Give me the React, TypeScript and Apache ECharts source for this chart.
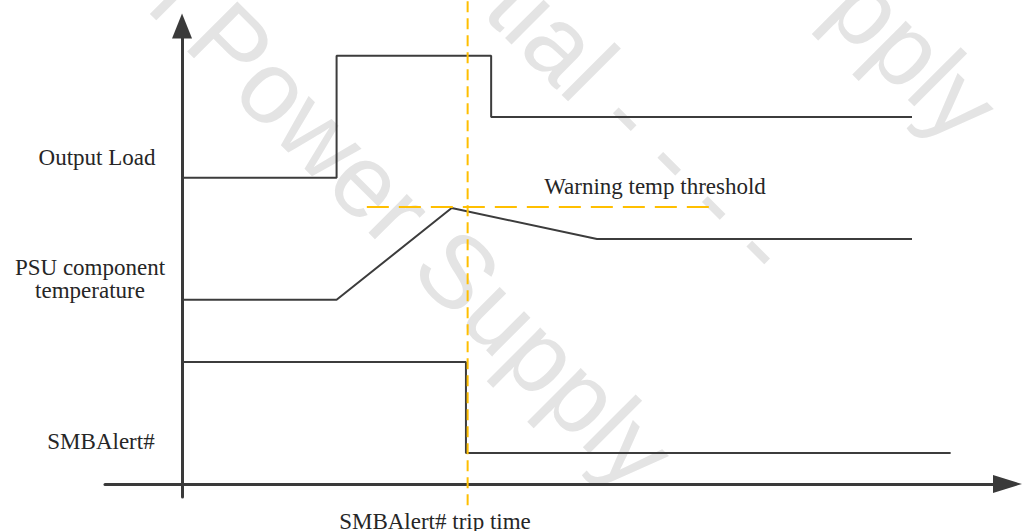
import React, { useEffect, useRef } from "react";
import * as echarts from "echarts";

// Time axis in arbitrary units (0 = vertical axis), signal level in arbitrary units (0 = time axis)
const outputLoadX = [0, 18.4, 18.4, 36.8, 36.8, 86.9];
const outputLoadY = [65.0, 65.0, 90.9, 90.9, 77.9, 77.9];

const tempX = [0, 18.4, 32.1, 49.4, 86.9];
const tempY = [39.1, 39.1, 58.6, 52.0, 52.0];

const alertX = [0, 33.8, 33.8, 91.5];
const alertY = [25.9, 25.9, 6.6, 6.6];

const thresholdX = [22.0, 63.2];
const thresholdY = [58.8, 58.8];

const tripX = [34.0, 34.0];
const tripY = [-4.5, 102.8];

const signalLabels = ["Output Load", "PSU component\ntemperature", "SMBAlert#"];
const thresholdLabel = "Warning temp threshold";
const tripLabel = "SMBAlert# trip time";
const watermarks = ["l Power Supply", "tial - - - -", "pply"];

const zip = (xs: number[], ys: number[]) => xs.map((x, i) => [x, ys[i]]);

const AXIS_COLOR = "#3a3a3a";
const LINE_COLOR = "#3c3c3c";
const ORANGE = "#ffbf00";
const TEXT_COLOR = "#262626";
const SERIF = "'Liberation Serif', 'Times New Roman', serif";

export default function App() {
  const ref = useRef<HTMLDivElement>(null);
  useEffect(() => {
    if (!ref.current) return;
    const chart = echarts.init(ref.current, null, { renderer: "svg" });
    const axisCommon = {
      type: "value" as const,
      axisTick: { show: false },
      axisLabel: { show: false },
      splitLine: { show: false },
    };
    const wmStyle = (text: string) => ({
      text,
      fontSize: 103,
      fontFamily: "'Liberation Sans', Arial, sans-serif",
      fill: "#e4e4e4",
      align: "left",
      verticalAlign: "middle",
    });
    const label = (text: string, x: number, y: number, align = "center") => ({
      type: "text",
      x,
      y,
      z: 10,
      style: {
        text,
        fontSize: 23,
        lineHeight: 23,
        fontFamily: SERIF,
        fill: TEXT_COLOR,
        align,
        verticalAlign: "middle",
      },
    });
    chart.setOption({
      animation: false,
      backgroundColor: "#ffffff",
      grid: { left: 105, right: 17.5, top: 26, bottom: 34 },
      xAxis: {
        ...axisCommon,
        min: -9.17,
        max: 98.27,
        axisLine: {
          show: true,
          onZero: true,
          symbol: ["none", "triangle"],
          symbolSize: [18, 29],
          lineStyle: { color: AXIS_COLOR, width: 3 },
        },
      },
      yAxis: {
        ...axisCommon,
        min: -2.76,
        max: 97.24,
        axisLine: {
          show: true,
          onZero: true,
          symbol: ["none", "triangle"],
          symbolSize: [20, 25],
          lineStyle: { color: AXIS_COLOR, width: 3 },
        },
      },
      graphic: [
        { type: "text", x: 170, y: -16, rotation: -Math.PI / 4, z: 0, style: wmStyle(watermarks[0]) },
        { type: "text", x: 505, y: -12, rotation: -Math.PI / 4, z: 0, style: wmStyle(watermarks[1]) },
        { type: "text", x: 847, y: -11, rotation: -Math.PI / 4, z: 0, style: wmStyle(watermarks[2]) },
        label(signalLabels[0], 97, 157),
        label(signalLabels[1], 90, 279),
        label(signalLabels[2], 101, 441),
        label(thresholdLabel, 655, 186),
        label(tripLabel, 435, 521),
      ],
      series: [
        {
          type: "line",
          data: zip(outputLoadX, outputLoadY),
          symbol: "none",
          lineStyle: { color: LINE_COLOR, width: 2 },
          z: 3,
        },
        {
          type: "line",
          data: zip(tempX, tempY),
          symbol: "none",
          lineStyle: { color: LINE_COLOR, width: 2 },
          z: 3,
        },
        {
          type: "line",
          data: zip(alertX, alertY),
          symbol: "none",
          lineStyle: { color: LINE_COLOR, width: 2 },
          z: 3,
        },
        {
          type: "line",
          data: zip(thresholdX, thresholdY),
          symbol: "none",
          lineStyle: { color: ORANGE, width: 2, type: [22, 10] },
          z: 4,
        },
        {
          type: "line",
          data: zip(tripX, tripY),
          symbol: "none",
          clip: false,
          lineStyle: { color: ORANGE, width: 2, type: [11, 6] },
          z: 4,
        },
      ],
    });
    return () => chart.dispose();
  }, []);
  return (
    <div
      ref={ref}
      style={{ position: "fixed", left: 0, top: 0, width: 1025, height: 531, background: "#fff" }}
    />
  );
}
